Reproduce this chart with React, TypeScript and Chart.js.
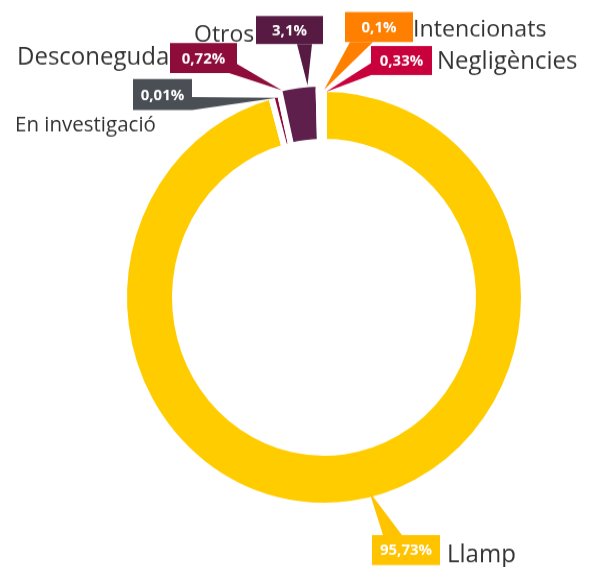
import React, { useEffect, useRef } from "react";
import { Chart, registerables } from "chart.js";

Chart.register(...registerables);

// ---- data ----
const CATEGORIES = ["Llamp", "En investigació", "Desconeguda", "Otros", "Intencionats", "Negligències"];
const VALUES = [95.73, 0.01, 0.72, 3.1, 0.1, 0.33];
const VALUE_LABELS = ["95,73%", "0,01%", "0,72%", "3,1%", "0,1%", "0,33%"];

// ---- styles ----
const SLICE_COLORS = ["#FFCC00", "#4A4F55", "#8E0C3A", "#5E1F4D", "#FF7F00", "#C8003C"];
const BOX_COLORS = ["#FFC300", "#4A4F55", "#8E0C3A", "#571A42", "#FF7F00", "#C8003C"];
const SLICE_EXTRA_RADIUS = [0, 0, 0, 5, 0, 0];
const BORDER = 6;
const SY = 1.043; // vertical stretch of the reference picture
const FONT = '"Open Sans", "Noto Sans", sans-serif';

// callout layout (page coordinates): box [x, y, w, h], pointer base points, name position
const CALLOUTS = [
  { box: [372, 535, 68, 30], base: [[383, 535], [402, 535]], name: [447, 562], size: 24, angle: -6, tipOff: -5 },
  { box: [133, 79, 59, 31], base: [[192, 97], [192, 110]], name: [15, 131], size: 20.5, angle: 1.5, tipOff: 0 },
  { box: [170, 43, 67, 30], base: [[229, 73], [237, 64]], name: [17, 65], size: 24, angle: 2, tipOff: 6 },
  { box: [256, 16, 67, 28], base: [[297, 44], [312, 44]], name: [194, 42], size: 23, angle: 2.5, tipOff: 2 },
  { box: [345, 12, 68, 30], base: [[350, 42], [373, 42]], name: [413, 37], size: 23.2, angle: 1.4, tipOff: 2 },
  { box: [371, 46, 61, 29], base: [[371, 63], [371, 75]], name: [437, 69], size: 24, angle: 1.2, tipOff: 0 },
];

const radiusPlugin = {
  id: "sliceRadius",
  afterDatasetsUpdate(chart: any) {
    const meta = chart.getDatasetMeta(0);
    meta.data.forEach((arc: any, i: number) => {
      arc.outerRadius += SLICE_EXTRA_RADIUS[i] || 0;
    });
  },
};

const calloutPlugin = {
  id: "callouts",
  afterDraw(chart: any) {
    const ctx = chart.ctx;
    const meta = chart.getDatasetMeta(0);
    ctx.save();
    ctx.scale(1, 1 / SY);
    CALLOUTS.forEach((c, i) => {
      const arc = meta.data[i];
      if (!arc) return;
      const mid = (arc.startAngle + arc.endAngle) / 2 + (c.angle * Math.PI) / 180;
      const r = arc.outerRadius - BORDER / 2 + c.tipOff;
      const tx = arc.x + Math.cos(mid) * r;
      const ty = (arc.y + Math.sin(mid) * r) * SY;
      ctx.fillStyle = BOX_COLORS[i];
      ctx.beginPath();
      ctx.moveTo(tx, ty);
      ctx.lineTo(c.base[0][0], c.base[0][1]);
      ctx.lineTo(c.base[1][0], c.base[1][1]);
      ctx.closePath();
      ctx.fill();
      const [bx, by, bw, bh] = c.box;
      ctx.fillRect(bx, by, bw, bh);
      ctx.fillStyle = "#ffffff";
      ctx.font = `bold 15px ${FONT}`;
      ctx.textAlign = "center";
      ctx.textBaseline = "middle";
      ctx.fillText(VALUE_LABELS[i], bx + bw / 2, by + bh / 2 + 1);
      ctx.fillStyle = "#333333";
      ctx.font = `${c.size}px ${FONT}`;
      ctx.textAlign = "left";
      ctx.textBaseline = "alphabetic";
      ctx.fillText(CATEGORIES[i], c.name[0], c.name[1]);
    });
    ctx.restore();
  },
};

export default function App() {
  const ref = useRef<HTMLCanvasElement | null>(null);
  useEffect(() => {
    if (!ref.current) return;
    const chart = new Chart(ref.current, {
      type: "doughnut",
      data: {
        labels: CATEGORIES,
        datasets: [
          {
            data: VALUES,
            backgroundColor: SLICE_COLORS,
            borderColor: "#ffffff",
            borderWidth: BORDER,
            hoverOffset: 0,
          },
        ],
      },
      options: {
        responsive: true,
        maintainAspectRatio: false,
        animation: false,
        radius: 200,
        cutout: "74.5%",
        rotation: 0,
        layout: { padding: { left: 56, right: 0, top: 26, bottom: 0 } },
        plugins: {
          legend: { display: false },
          tooltip: { enabled: false },
        },
        events: [],
      } as any,
      plugins: [radiusPlugin, calloutPlugin],
    });
    return () => chart.destroy();
  }, []);
  return (
    <div
      style={{
        position: "absolute",
        left: 0,
        top: 0,
        width: 592,
        height: 544,
        transform: `scaleY(${SY})`,
        transformOrigin: "0 0",
      }}
    >
      <canvas ref={ref} />
    </div>
  );
}
